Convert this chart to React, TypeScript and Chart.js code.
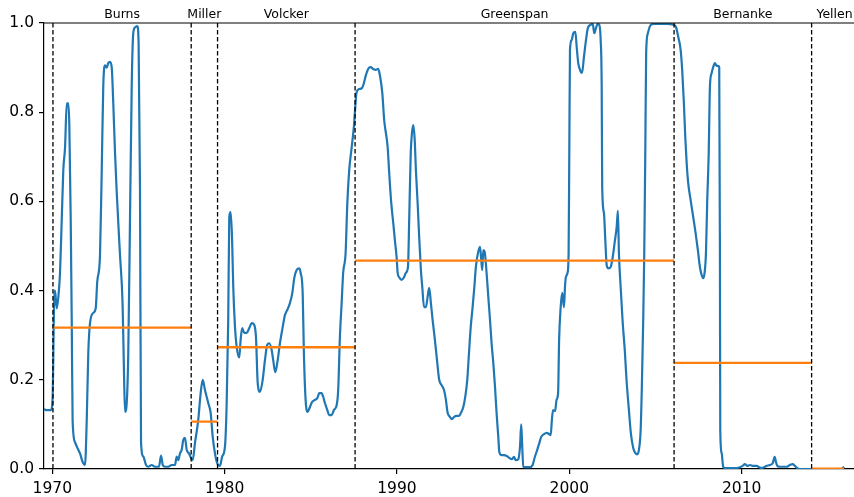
import React, { useEffect, useRef } from "react";
import { Chart, registerables } from "chart.js";

Chart.register(...registerables);

// Monthly-ish probability series (decimal years)
const years = [
  1969.52, 1969.63, 1969.92, 1970.02, 1970.1, 1970.16, 1970.26, 1970.35, 1970.45, 1970.55,
  1970.64, 1970.74, 1970.84, 1970.93, 1970.99, 1971.07, 1971.13, 1971.18, 1971.32, 1971.51,
  1971.61, 1971.76, 1971.9, 1972.0, 1972.09, 1972.19, 1972.38, 1972.52, 1972.61, 1972.77,
  1972.87, 1972.96, 1973.06, 1973.16, 1973.25, 1973.35, 1973.45, 1973.54, 1973.64, 1973.74,
  1973.93, 1974.08, 1974.16, 1974.22, 1974.32, 1974.41, 1974.51, 1974.61, 1974.7, 1974.8,
  1974.93, 1975.01, 1975.09, 1975.15, 1975.28, 1975.44, 1975.57, 1975.77, 1975.96, 1976.09,
  1976.19, 1976.31, 1976.41, 1976.54, 1976.73, 1976.93, 1977.12, 1977.22, 1977.31, 1977.41,
  1977.51, 1977.6, 1977.7, 1977.8, 1977.93, 1978.05, 1978.15, 1978.28, 1978.47, 1978.61,
  1978.73, 1978.86, 1979.05, 1979.19, 1979.31, 1979.44, 1979.57, 1979.73, 1979.86, 1980.02,
  1980.12, 1980.21, 1980.27, 1980.35, 1980.43, 1980.5, 1980.6, 1980.7, 1980.85, 1980.93,
  1981.02, 1981.14, 1981.28, 1981.43, 1981.57, 1981.72, 1981.82, 1981.92, 1982.05, 1982.21,
  1982.34, 1982.47, 1982.59, 1982.73, 1982.82, 1982.94, 1983.08, 1983.21, 1983.37, 1983.5,
  1983.64, 1983.79, 1983.93, 1984.04, 1984.18, 1984.33, 1984.41, 1984.53, 1984.6, 1984.7,
  1984.82, 1984.95, 1985.07, 1985.24, 1985.38, 1985.49, 1985.63, 1985.72, 1985.82, 1985.96,
  1986.07, 1986.21, 1986.34, 1986.5, 1986.59, 1986.69, 1986.79, 1986.88, 1987.02, 1987.12,
  1987.23, 1987.37, 1987.5, 1987.56, 1987.66, 1987.81, 1987.97, 1988.08, 1988.2, 1988.33,
  1988.47, 1988.62, 1988.76, 1988.91, 1989.01, 1989.15, 1989.26, 1989.36, 1989.46, 1989.55,
  1989.67, 1989.79, 1989.88, 1989.98, 1990.04, 1990.13, 1990.27, 1990.41, 1990.52, 1990.64,
  1990.71, 1990.8, 1990.87, 1990.95, 1991.03, 1991.1, 1991.2, 1991.29, 1991.39, 1991.47,
  1991.57, 1991.68, 1991.78, 1991.87, 1991.97, 1992.07, 1992.2, 1992.34, 1992.45, 1992.59,
  1992.73, 1992.84, 1992.94, 1993.07, 1993.19, 1993.32, 1993.46, 1993.61, 1993.71, 1993.85,
  1993.96, 1994.08, 1994.18, 1994.28, 1994.39, 1994.49, 1994.58, 1994.7, 1994.82, 1994.89,
  1994.95, 1995.01, 1995.09, 1995.2, 1995.3, 1995.4, 1995.49, 1995.59, 1995.69, 1995.78,
  1995.88, 1995.94, 1996.07, 1996.21, 1996.37, 1996.52, 1996.66, 1996.79, 1996.89, 1997.04,
  1997.14, 1997.21, 1997.27, 1997.33, 1997.53, 1997.72, 1997.87, 1998.01, 1998.14, 1998.26,
  1998.37, 1998.53, 1998.69, 1998.84, 1998.92, 1998.99, 1999.06, 1999.18, 1999.26, 1999.35,
  1999.41, 1999.5, 1999.59, 1999.69, 1999.75, 1999.8, 1999.9, 1999.96, 2000.0, 2000.04,
  2000.14, 2000.23, 2000.35, 2000.43, 2000.52, 2000.62, 2000.74, 2000.85, 2000.97, 2001.08,
  2001.24, 2001.36, 2001.45, 2001.55, 2001.65, 2001.74, 2001.82, 2001.88, 2001.91, 2002.01,
  2002.09, 2002.17, 2002.28, 2002.4, 2002.52, 2002.63, 2002.75, 2002.82, 2002.88, 2002.98,
  2003.09, 2003.23, 2003.32, 2003.46, 2003.57, 2003.71, 2003.83, 2003.94, 2004.04, 2004.14,
  2004.21, 2004.29, 2004.35, 2004.41, 2004.46, 2004.56, 2004.68, 2004.87, 2005.26, 2005.65,
  2006.03, 2006.19, 2006.32, 2006.46, 2006.55, 2006.65, 2006.73, 2006.81, 2006.9, 2007.04,
  2007.19, 2007.33, 2007.46, 2007.58, 2007.68, 2007.77, 2007.85, 2007.93, 2008.0, 2008.09,
  2008.16, 2008.26, 2008.35, 2008.45, 2008.55, 2008.64, 2008.7, 2008.74, 2008.76, 2008.84,
  2008.93, 2009.09, 2009.32, 2009.61, 2009.9, 2010.06, 2010.19, 2010.33, 2010.48, 2010.67,
  2010.87, 2011.02, 2011.16, 2011.3, 2011.45, 2011.64, 2011.8, 2011.92, 2011.99, 2012.07,
  2012.23, 2012.41, 2012.61, 2012.8, 2012.96, 2013.09, 2013.23, 2013.38, 2013.96, 2014.54,
  2015.12, 2015.8, 2015.89, 2015.95,
];

const probability = [
  0.135, 0.132, 0.132, 0.16, 0.36, 0.4, 0.36, 0.385, 0.44, 0.56,
  0.67, 0.72, 0.82, 0.82, 0.77, 0.56, 0.33, 0.11, 0.06, 0.043,
  0.035, 0.016, 0.009, 0.11, 0.26, 0.327, 0.35, 0.36, 0.42, 0.48,
  0.67, 0.86, 0.905, 0.9, 0.91, 0.913, 0.9, 0.82, 0.71, 0.62,
  0.48, 0.37, 0.22, 0.128, 0.148, 0.26, 0.56, 0.86, 0.977, 0.99,
  0.993, 0.955, 0.63, 0.06, 0.028, 0.009, 0.005, 0.009, 0.005, 0.005,
  0.005, 0.03, 0.009, 0.005, 0.005, 0.009, 0.009, 0.028, 0.02, 0.035,
  0.043, 0.065, 0.07, 0.043, 0.035, 0.025, 0.02, 0.058, 0.11, 0.17,
  0.2, 0.177, 0.148, 0.126, 0.072, 0.035, 0.013, 0.007, 0.028, 0.05,
  0.148, 0.334, 0.565, 0.576, 0.52, 0.41, 0.32, 0.274, 0.25, 0.29,
  0.316, 0.305, 0.305, 0.316, 0.327, 0.323, 0.296, 0.193, 0.173, 0.2,
  0.244, 0.278, 0.282, 0.267, 0.244, 0.217, 0.244, 0.282, 0.318, 0.345,
  0.357, 0.372, 0.395, 0.428, 0.446, 0.45, 0.44, 0.395, 0.26, 0.155,
  0.128, 0.139, 0.15, 0.155, 0.159, 0.17, 0.17, 0.162, 0.148, 0.132,
  0.121, 0.121, 0.132, 0.143, 0.177, 0.296, 0.372, 0.44, 0.484, 0.596,
  0.67, 0.72, 0.767, 0.8, 0.845, 0.852, 0.854, 0.865, 0.883, 0.897,
  0.901, 0.897, 0.895, 0.897, 0.883, 0.843, 0.782, 0.753, 0.722, 0.664,
  0.596, 0.55, 0.513, 0.475, 0.44, 0.43, 0.424, 0.43, 0.44, 0.453,
  0.558, 0.709, 0.753, 0.771, 0.738, 0.67, 0.596, 0.52, 0.446, 0.408,
  0.363, 0.363, 0.386, 0.406, 0.372, 0.334, 0.29, 0.238, 0.2, 0.188,
  0.177, 0.155, 0.126, 0.117, 0.112, 0.117, 0.119, 0.119, 0.126, 0.139,
  0.161, 0.2, 0.26, 0.318, 0.363, 0.408, 0.453, 0.484, 0.498, 0.469,
  0.446, 0.491, 0.487, 0.44, 0.386, 0.334, 0.282, 0.238, 0.184, 0.126,
  0.072, 0.038, 0.031, 0.031, 0.029, 0.025, 0.022, 0.027, 0.02, 0.022,
  0.05, 0.1, 0.05, 0.005, 0.004, 0.004, 0.009, 0.028, 0.043, 0.058,
  0.072, 0.078, 0.081, 0.078, 0.076, 0.11, 0.132, 0.13, 0.155, 0.17,
  0.29, 0.363, 0.395, 0.363, 0.408, 0.43, 0.44, 0.484, 0.709, 0.94,
  0.962, 0.977, 0.98, 0.946, 0.91, 0.895, 0.888, 0.924, 0.962, 0.989,
  0.996, 0.998, 0.977, 0.989, 0.998, 0.996, 0.962, 0.857, 0.632, 0.574,
  0.513, 0.457, 0.45, 0.453, 0.475, 0.507, 0.543, 0.579, 0.484, 0.408,
  0.334, 0.26, 0.2, 0.132, 0.081, 0.047, 0.036, 0.033, 0.043, 0.087,
  0.184, 0.334, 0.484, 0.709, 0.933, 0.977, 0.993, 0.998, 0.998, 0.998,
  0.996, 0.991, 0.969, 0.94, 0.895, 0.82, 0.744, 0.686, 0.641, 0.603,
  0.565, 0.529, 0.491, 0.453, 0.435, 0.428, 0.44, 0.484, 0.596, 0.709,
  0.857, 0.888, 0.901, 0.91, 0.904, 0.904, 0.901, 0.484, 0.087, 0.036,
  0.005, 0.002, 0.002, 0.002, 0.004, 0.007, 0.011, 0.007, 0.009, 0.007,
  0.007, 0.004, 0.002, 0.004, 0.007, 0.009, 0.013, 0.027, 0.016, 0.007,
  0.005, 0.005, 0.005, 0.009, 0.011, 0.007, 0.002, 0.0, 0.0, 0.0,
  0.0, 0.0, 0.003, 0.005,
];

// Fed chairs, their terms and the mean of the series over each term
const chairs = ["Burns", "Miller", "Volcker", "Greenspan", "Bernanke", "Yellen"];
const termStart = [1970.04, 1978.06, 1979.59, 1987.57, 2006.08, 2014.06];
const termEnd = [1978.06, 1979.59, 1987.57, 2006.08, 2014.06, 2016.72];
const chairMeans = [0.317, 0.106, 0.273, 0.467, 0.238, 0.001];

const xTicks = [1970, 1980, 1990, 2000, 2010];
const yTicks = [0, 0.2, 0.4, 0.6, 0.8, 1.0];
const xMax = 2016.52;

const FONT = "'DejaVu Sans', 'Liberation Sans', sans-serif";

const chairAnnotations = {
  id: "chairAnnotations",
  afterDatasetsDraw(chart: any) {
    const { ctx, chartArea, scales } = chart;
    const x = scales.x;
    ctx.save();
    ctx.strokeStyle = "#000";
    ctx.lineWidth = 1.3;
    ctx.setLineDash([4.5, 2.5]);
    termStart.forEach((s) => {
      const px = x.getPixelForValue(s);
      ctx.beginPath();
      ctx.moveTo(px, chartArea.top);
      ctx.lineTo(px, chartArea.bottom);
      ctx.stroke();
    });
    ctx.restore();
  },
  afterDraw(chart: any) {
    const { ctx, chartArea, scales } = chart;
    const x = scales.x;
    ctx.save();
    // top spine
    ctx.strokeStyle = "#000";
    ctx.lineWidth = 1.2;
    ctx.beginPath();
    ctx.moveTo(chartArea.left, chartArea.top);
    ctx.lineTo(chart.width, chartArea.top);
    ctx.stroke();
    // chair names above the plot
    ctx.fillStyle = "#000";
    ctx.font = `12.5px ${FONT}`;
    ctx.textAlign = "center";
    ctx.textBaseline = "alphabetic";
    chairs.forEach((name, i) => {
      const mid = (termStart[i] + termEnd[i]) / 2;
      ctx.fillText(name, x.getPixelForValue(mid), chartArea.top - 5);
    });
    ctx.restore();
  },
};

export default function App() {
  const canvasRef = useRef<HTMLCanvasElement | null>(null);

  useEffect(() => {
    const canvas = canvasRef.current;
    if (!canvas) return;

    const lastYear = years[years.length - 1];
    const series = years.map((yr, i) => ({ x: yr, y: probability[i] }));
    const meanSegments: { x: number; y: number | null }[] = [];
    chairs.forEach((_, i) => {
      const end = Math.min(termEnd[i], lastYear);
      meanSegments.push({ x: termStart[i], y: chairMeans[i] });
      meanSegments.push({ x: end, y: chairMeans[i] });
      meanSegments.push({ x: end, y: null });
    });

    const tickFont = { family: FONT, size: 15.5 };

    const chart = new Chart(canvas, {
      type: "line",
      data: {
        datasets: [
          {
            data: series,
            borderColor: "#1f77b4",
            borderWidth: 2.2,
            pointRadius: 0,
            cubicInterpolationMode: "monotone",
            fill: false,
            order: 2,
          },
          {
            data: meanSegments,
            borderColor: "#ff7f0e",
            borderWidth: 2.3,
            pointRadius: 0,
            spanGaps: false,
            fill: false,
            order: 1,
          },
        ],
      },
      options: {
        animation: false,
        responsive: false,
        devicePixelRatio: 1,
        layout: { padding: { top: 23, left: 0, right: 0, bottom: 0 } },
        plugins: {
          legend: { display: false },
          tooltip: { enabled: false },
        },
        scales: {
          x: {
            type: "linear",
            min: years[0],
            max: xMax,
            afterBuildTicks: (scale: any) => {
              scale.ticks = xTicks.map((v) => ({ value: v }));
            },
            afterFit: (scale: any) => {
              scale.height = 28;
            },
            ticks: {
              color: "#000",
              font: tickFont,
              padding: 6,
              maxRotation: 0,
              autoSkip: false,
              callback: (v: any) => String(v),
            },
            grid: {
              drawOnChartArea: false,
              drawTicks: true,
              tickLength: 5,
              color: "#000",
              lineWidth: 1.2,
            },
            border: { display: true, color: "#000", width: 1.2 },
          },
          y: {
            type: "linear",
            min: 0,
            max: 1,
            afterBuildTicks: (scale: any) => {
              scale.ticks = yTicks.map((v) => ({ value: v }));
            },
            afterFit: (scale: any) => {
              scale.width = 44;
            },
            ticks: {
              color: "#000",
              font: tickFont,
              padding: 5,
              callback: (v: any) => Number(v).toFixed(1),
            },
            grid: {
              drawOnChartArea: false,
              drawTicks: true,
              tickLength: 5,
              color: "#000",
              lineWidth: 1.2,
            },
            border: { display: true, color: "#000", width: 1.2 },
          },
        },
      },
      plugins: [chairAnnotations],
    });

    return () => chart.destroy();
  }, []);

  return (
    <div
      style={{
        position: "fixed",
        left: 0,
        top: 0,
        width: 854,
        height: 497,
        background: "#fff",
        overflow: "hidden",
      }}
    >
      <canvas ref={canvasRef} width={854} height={497} style={{ display: "block" }} />
    </div>
  );
}
